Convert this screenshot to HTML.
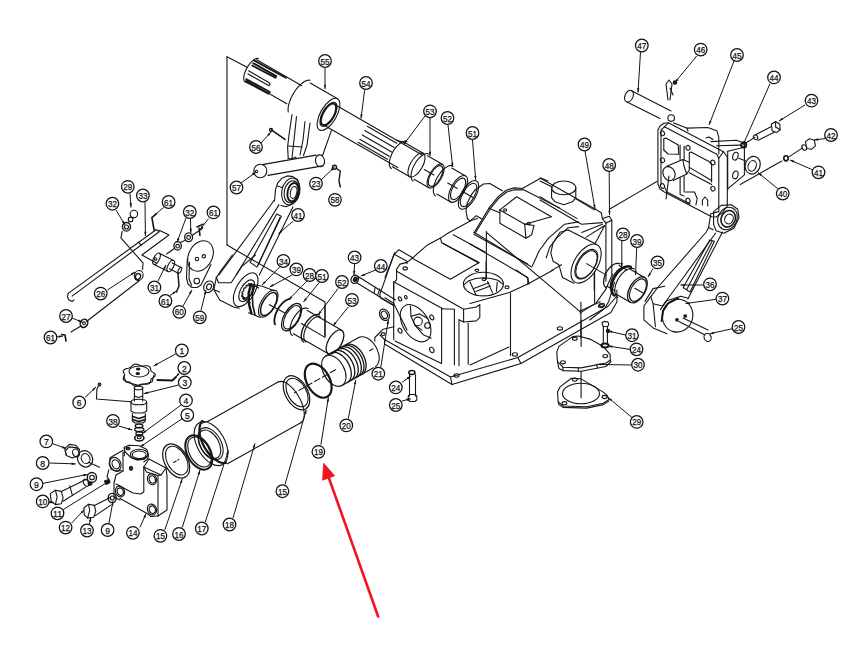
<!DOCTYPE html>
<html><head><meta charset="utf-8"><style>
html,body{margin:0;padding:0;background:#fff;width:867px;height:649px;overflow:hidden}
svg{display:block}
text{font-family:"Liberation Sans",sans-serif;fill:#111;stroke:#111;stroke-width:0.25}
</style></head><body>
<svg width="867" height="649" viewBox="0 0 867 649">
<g fill="none" stroke="#151515" stroke-width="1.1" stroke-linejoin="round" stroke-linecap="round">
<polyline points="227.0,56.7 247.5,67.5"/>
<polyline points="227.0,56.7 227.0,245.0"/>
<polyline points="227.0,245.0 325.0,302.0"/>
<polyline points="325.0,306.0 325.0,336.0"/>
<polyline points="256.7,59.7 301.8,85.7"/>
<polyline points="246.0,80.4 286.8,103.8"/>
<polyline points="245.1,81.9 244.6,81.5 244.2,80.8 243.9,80.0 243.7,79.0 243.7,77.9 243.8,76.6 244.1,75.2 244.4,73.8 245.0,72.3 245.6,70.7 246.3,69.2 247.2,67.6 248.1,66.1 249.0,64.7 250.1,63.4 251.1,62.2 252.2,61.1 253.2,60.2 254.3,59.5 255.3,58.9 256.2,58.6 257.0,58.4 257.8,58.5 258.5,58.7"/>
<polyline points="253.2,63.2 276.3,76.1 275.4,77.7 252.2,65.5" stroke-width="1.8"/>
<polyline points="248.6,70.8 268.4,82.2 270.2,84.0 269.1,85.8 248.0,73.9"/>
<polyline points="246.2,79.1 269.8,92.0 268.4,93.7 245.8,81.6" stroke-width="1.8"/>
<polyline points="253.9,60.4 285.8,77.7" stroke-width="1.8"/>
<polyline points="335.6,105.1 422.3,155.0"/>
<polyline points="320.6,123.2 397.7,167.6"/>
<polyline points="367.3,126.3 396.7,143.3"/>
<polyline points="364.8,130.6 394.2,147.6"/>
<polyline points="362.3,135.0 391.7,151.9"/>
<polyline points="359.8,139.3 389.2,156.3"/>
<polyline points="358.0,142.3 387.5,159.3"/>
<polyline points="288.2,112.0 288.1,110.6 288.1,109.1 288.2,107.4 288.5,105.7 289.0,103.9 289.5,102.1 290.2,100.2 290.9,98.3 291.8,96.4 292.8,94.6 293.9,92.8 295.0,91.0 296.2,89.3 297.5,87.7 298.8,86.3 300.1,84.9 301.5,83.7 302.8,82.7 304.1,81.8 305.4,81.1 306.7,80.6 307.8,80.3 309.0,80.1 310.0,80.2"/>
<polyline points="310.2,83.1 337.5,98.8"/>
<ellipse cx="328.5" cy="114.4" rx="8.1" ry="18.0" transform="rotate(29.9 328.5 114.4)"/>
<ellipse cx="328.5" cy="114.4" rx="6.1" ry="13.5" transform="rotate(29.9 328.5 114.4)"/>
<ellipse cx="328.5" cy="114.4" rx="5.4" ry="12.0" transform="rotate(29.9 328.5 114.4)" stroke-width="1.8"/>
<polyline points="292.0,114.5 289.0,135.0 287.6,147.0 288.2,158.3"/>
<polyline points="296.5,116.5 294.0,140.0 292.0,158.0"/>
<polyline points="305.0,121.5 303.0,140.0 300.0,155.0"/>
<polyline points="310.0,123.0 307.0,145.0 303.5,155.5"/>
<polyline points="288.2,158.3 291.0,159.0 296.0,157.0"/>
<polyline points="288.0,146.0 302.0,147.0"/>
<polyline points="331.4,130.4 322.5,155.8"/>
<polyline points="271.0,129.7 285.0,139.3" stroke-width="1.6"/>
<circle cx="271" cy="130" r="1.6"/>
<polyline points="262.2,164.6 316.1,155.1"/>
<polyline points="268.0,175.4 322.5,165.9"/>
<ellipse cx="260.3" cy="171" rx="6.5" ry="6.8"/>
<ellipse cx="320" cy="160.8" rx="4.5" ry="6" transform="rotate(-10 320 160.8)"/>
<circle cx="256.5" cy="171.5" r="1.2"/>
<circle cx="334.5" cy="167.2" r="2" stroke-width="1.5"/>
<polyline points="336.5,168.5 340.3,171.0 339.0,181.0 340.3,187.0" stroke-width="1.4"/>
<polyline points="405.9,143.3 423.2,153.3"/>
<polyline points="392.4,166.7 409.8,176.7"/>
<polyline points="391.4,168.5 390.7,168.0 390.1,167.2 389.7,166.2 389.4,165.0 389.3,163.6 389.4,162.1 389.6,160.5 390.0,158.8 390.6,157.0 391.3,155.2 392.1,153.3 393.1,151.5 394.2,149.8 395.3,148.2 396.5,146.6 397.8,145.3 399.1,144.1 400.4,143.0 401.6,142.2 402.9,141.6 404.0,141.2 405.1,141.1 406.1,141.2 406.9,141.5"/>
<ellipse cx="416.5" cy="165.0" rx="6.1" ry="13.5" transform="rotate(29.9 416.5 165.0)"/>
<polyline points="396.3,140.0 405.9,143.3"/>
<polyline points="427.6,155.8 442.3,164.3"/>
<polyline points="414.1,179.2 428.9,187.7"/>
<polyline points="413.1,181.0 412.4,180.4 411.8,179.6 411.4,178.6 411.1,177.4 411.0,176.1 411.1,174.6 411.3,172.9 411.7,171.2 412.3,169.4 413.0,167.6 413.8,165.8 414.8,164.0 415.8,162.3 417.0,160.6 418.2,159.1 419.5,157.7 420.8,156.5 422.0,155.5 423.3,154.7 424.5,154.1 425.7,153.7 426.8,153.6 427.7,153.7 428.6,154.0"/>
<ellipse cx="435.6" cy="176.0" rx="6.1" ry="13.5" transform="rotate(29.9 435.6 176.0)"/>
<ellipse cx="435.6" cy="176.0" rx="5.2" ry="11.5" transform="rotate(29.9 435.6 176.0)"/>
<polyline points="451.7,168.0 465.6,175.9"/>
<polyline points="436.8,194.0 450.6,201.9"/>
<polyline points="435.6,196.0 434.8,195.3 434.2,194.4 433.7,193.3 433.4,192.0 433.3,190.5 433.4,188.8 433.6,187.0 434.1,185.1 434.7,183.1 435.5,181.1 436.4,179.1 437.5,177.1 438.7,175.2 440.0,173.3 441.3,171.6 442.7,170.1 444.1,168.7 445.6,167.6 447.0,166.7 448.3,166.0 449.6,165.6 450.8,165.5 451.9,165.6 452.9,166.0"/>
<ellipse cx="458.1" cy="188.9" rx="6.8" ry="15.0" transform="rotate(29.9 458.1 188.9)"/>
<ellipse cx="458.1" cy="188.9" rx="5.4" ry="12.0" transform="rotate(29.9 458.1 188.9)"/>
<ellipse cx="468.5" cy="194.9" rx="7.2" ry="16.0" transform="rotate(29.9 468.5 194.9)"/>
<ellipse cx="468.5" cy="194.9" rx="5.9" ry="13.0" transform="rotate(29.9 468.5 194.9)"/>
<polyline points="424.3,169.5 433.9,175.0"/>
<polyline points="447.7,183.0 457.3,188.4"/>
<polyline points="463.3,191.9 472.9,197.4"/>
<polyline points="467.5,218.8 466.0,211.5 467.2,203.2 471.2,194.9 475.3,189.7 483.6,184.0 489.8,183.5 502.3,190.8"/>
<polyline points="467.5,218.8 470.1,220.9 476.3,215.7 481.5,218.8"/>
<polyline points="473.9,233.0 488.9,208.2 498.2,196.6 506.2,190.2 514.3,187.9 522.4,188.5 540.9,178.1 547.9,181.0"/>
<polyline points="475.6,232.4 490.3,208.7 499.3,197.7 506.8,192.0 514.3,189.7 523.0,189.9"/>
<polyline points="488.9,208.2 499.9,212.8"/>
<polyline points="523.6,189.7 560.0,208.2"/>
<polyline points="499.9,209.9 516.6,196.8 551.3,216.8"/>
<polyline points="499.9,209.9 524.7,224.3 551.3,216.8"/>
<polyline points="499.9,209.9 499.9,223.2 525.9,238.2 531.7,234.7 534.0,225.5 524.7,224.3"/>
<polyline points="524.7,224.3 525.9,238.2"/>
<ellipse cx="505.1" cy="209.9" rx="1.5" ry="1.2" transform="rotate(0 505.1 209.9)"/>
<ellipse cx="528.8" cy="223.4" rx="1.5" ry="1.2" transform="rotate(0 528.8 223.4)"/>
<ellipse cx="563.7" cy="187.9" rx="12.1" ry="6.9"/>
<polyline points="551.6,187.9 551.6,197.7 555.0,201.8 563.7,204.7 572.4,201.8 575.8,197.7 575.8,187.9"/>
<polyline points="540.0,178.1 595.5,209.3 601.3,212.8 602.4,218.6 609.4,216.2 611.7,220.3"/>
<polyline points="540.0,181.0 552.7,187.3"/>
<polyline points="575.8,198.9 594.3,209.9"/>
<polyline points="540.0,196.6 577.0,218.6"/>
<polyline points="540.0,200.1 575.8,220.9 581.6,224.3 602.4,222.6"/>
<polyline points="602.4,218.6 605.9,223.2 611.7,220.3"/>
<polyline points="609.4,209.3 640.0,191.4 656.8,181.6"/>
<polyline points="581.6,232.4 602.4,224.3"/>
<polyline points="586.2,237.1 604.7,225.5"/>
<polyline points="595.5,242.8 604.7,225.5"/>
<ellipse cx="586.1" cy="263.6" rx="11.7" ry="21.7" transform="rotate(31.4 586.1 263.6)"/>
<ellipse cx="586.3" cy="264.2" rx="8.9" ry="16.5" transform="rotate(31.4 586.3 264.2)"/>
<ellipse cx="586.5" cy="264.6" rx="8.3" ry="15.3" transform="rotate(31.4 586.5 264.6)"/>
<polyline points="568.2,230.0 595.9,243.9"/>
<polyline points="568.2,230.0 560.1,232.3 553.1,242.7 550.8,253.2 553.1,261.2 558.9,264.7 562.4,277.4 573.9,283.2"/>
<polyline points="532.3,265.9 539.2,250.8 548.5,238.1 564.7,224.2 578.6,221.9"/>
<polyline points="546.2,257.8 549.7,247.4 556.6,238.1 568.2,227.7 578.6,226.6"/>
<polyline points="586.6,263.6 606.3,275.1"/>
<polyline points="594.2,273.4 594.2,290.0"/>
<polyline points="396.6,269.3 400.0,264.1 407.0,262.4 412.7,257.8 426.6,245.6 440.5,238.1 447.4,233.5 471.7,220.2 477.5,218.5"/>
<polyline points="385.0,277.4 394.2,254.3 398.9,249.7 412.7,257.8"/>
<polyline points="394.2,254.3 407.0,261.2 407.0,263.6"/>
<polyline points="440.5,238.1 441.6,242.7 479.2,262.4 450.3,279.2 412.7,258.4"/>
<polyline points="442.8,243.3 478.6,263.0"/>
<polyline points="453.2,234.7 485.0,252.0"/>
<ellipse cx="405.2" cy="268.4" rx="2.2" ry="1.5" transform="rotate(0 405.2 268.4)"/>
<ellipse cx="476.9" cy="270.3" rx="1.8" ry="1.2" transform="rotate(0 476.9 270.3)"/>
<polyline points="396.6,269.3 396.6,279.7 393.7,283.2 393.7,290.0"/>
<polyline points="396.6,271.2 461.9,308.2 463.6,309.3 476.3,307.0 479.8,304.7"/>
<polyline points="395.4,282.7 442.8,308.7"/>
<polyline points="393.7,281.6 393.7,339.4"/>
<polyline points="441.6,308.7 441.6,363.1"/>
<polyline points="454.4,309.3 454.4,364.8"/>
<polyline points="459.0,319.7 459.0,365.7"/>
<polyline points="468.2,323.2 468.2,364.2"/>
<polyline points="441.6,308.7 454.4,309.3"/>
<polyline points="459.0,319.7 463.6,322.0 476.3,320.9 479.8,317.4 479.8,304.7"/>
<polyline points="463.6,309.3 463.6,322.0"/>
<ellipse cx="415.6" cy="323.2" rx="12.7" ry="20.5" transform="rotate(-32.3 415.6 323.2)"/>
<polyline points="410.4,305.8 411.0,316.2 415.1,325.5 423.2,334.7 431.2,338.2"/>
<polyline points="411.0,316.2 419.7,313.9 427.8,318.6"/>
<polyline points="415.1,325.5 422.0,330.1"/>
<circle cx="418" cy="321.4" r="4.3"/>
<circle cx="427.5" cy="325.5" r="2.8"/>
<ellipse cx="400.0" cy="298.9" rx="1.4400000000000002" ry="2.16" transform="rotate(-30 400.0 298.9)"/>
<ellipse cx="405.8" cy="297.2" rx="1.2000000000000002" ry="1.7999999999999998" transform="rotate(-30 405.8 297.2)"/>
<ellipse cx="431.8" cy="317.4" rx="1.7600000000000002" ry="2.64" transform="rotate(-30 431.8 317.4)"/>
<ellipse cx="400.0" cy="330.7" rx="1.7600000000000002" ry="2.64" transform="rotate(-30 400.0 330.7)"/>
<polyline points="385.0,297.7 393.7,303.5"/>
<ellipse cx="431.8" cy="350" rx="2" ry="2.8" transform="rotate(-30 431.8 350)"/>
<polyline points="393.7,303.5 407.0,330.1"/>
<ellipse cx="483.4" cy="284.1" rx="20" ry="11.8"/>
<polyline points="464.0,284.8 468.8,280.7 475.8,278.5 483.4,277.8 491.0,278.5 497.9,280.3 502.8,284.1"/>
<polyline points="469.9,281.7 475.8,294.5"/>
<polyline points="487.5,281.4 492.7,293.1"/>
<polyline points="497.2,282.1 496.5,291.1"/>
<polyline points="473.7,288.6 488.9,282.8"/>
<polyline points="475.8,291.4 490.3,285.9"/>
<polyline points="486.1,262.0 486.1,279.3"/>
<ellipse cx="484" cy="279.5" rx="1.8" ry="1.1"/>
<polyline points="470.0,303.5 509.3,292.5 527.8,283.9 553.2,270.0"/>
<polyline points="516.2,270.0 527.8,278.1 529.0,283.9"/>
<polyline points="510.5,293.1 510.5,355.5"/>
<ellipse cx="507.0" cy="287.3" rx="2" ry="1.4" transform="rotate(0 507.0 287.3)"/>
<polyline points="473.9,232.3 531.7,267.0"/>
<polyline points="473.9,234.3 527.8,264.1"/>
<polyline points="486.4,231.4 486.4,278.6"/>
<polyline points="486.4,232.3 579.8,311.3"/>
<polyline points="470.0,243.9 527.8,277.6 527.8,284.4"/>
<polyline points="550.9,270.9 561.5,264.7"/>
<polyline points="579.8,311.3 600.1,301.7"/>
<polyline points="380.0,335.0 384.5,339.5 450.5,377.0 517.9,357.5 607.9,306.5 616.9,296.0 616.9,290.0"/>
<polyline points="384.5,339.5 384.5,344.0 452.0,384.5 520.9,363.5 610.9,312.5 616.9,302.0 616.9,296.0"/>
<polyline points="450.5,377.0 452.0,384.5"/>
<polyline points="517.9,357.5 520.9,363.5"/>
<polyline points="395.0,341.0 441.5,363.5"/>
<polyline points="470.0,365.0 508.9,347.0"/>
<polyline points="580.9,302.0 580.9,338.0"/>
<ellipse cx="456.5" cy="375.5" rx="2.6" ry="1.7" transform="rotate(0 456.5 375.5)"/>
<ellipse cx="514.9" cy="354.5" rx="2.6" ry="1.7" transform="rotate(0 514.9 354.5)"/>
<ellipse cx="559.9" cy="328.4" rx="2.6" ry="1.7" transform="rotate(0 559.9 328.4)"/>
<ellipse cx="601.9" cy="305.0" rx="2.6" ry="1.7" transform="rotate(0 601.9 305.0)"/>
<polyline points="274.5,201.0 275.5,189.4 277.6,183.2 281.8,178.3 287.3,175.9 292.9,176.6 297.7,179.7 299.1,185.3 299.1,192.9 296.4,199.8 290.8,204.7 286.0,206.8 281.0,205.5"/>
<polyline points="277.6,186.0 281.8,187.5"/>
<ellipse cx="290.8" cy="191.5" rx="9" ry="13.6" transform="rotate(12 290.8 191.5)"/>
<ellipse cx="291.5" cy="191.8" rx="7.2" ry="11.2" transform="rotate(12 291.5 191.8)"/>
<ellipse cx="292.9" cy="192.2" rx="5.3" ry="9.3" transform="rotate(12 292.9 192.2)" stroke-width="1.9"/>
<ellipse cx="293.6" cy="192.5" rx="3.2" ry="6" transform="rotate(12 293.6 192.5)"/>
<polyline points="274.4,200.0 218.9,275.0"/>
<polyline points="279.0,204.6 236.2,275.0"/>
<polygon points="276.7,213.9 281.3,216.2 257.0,267.1 250.1,262.4"/>
<polyline points="280.1,217.3 258.2,264.7"/>
<polyline points="292.9,206.9 259.3,275.0"/>
<polyline points="232.4,255.0 219.7,272.3 216.2,278.1 213.9,289.7 219.7,300.1 233.5,307.0 239.3,308.2"/>
<polyline points="216.2,277.0 218.5,282.7 231.2,282.7 241.6,266.6 255.5,255.0"/>
<polyline points="213.9,289.7 219.7,292.0"/>
<ellipse cx="245.7" cy="289.7" rx="9.3" ry="18.7" transform="rotate(29.9 245.7 289.7)"/>
<ellipse cx="246.7" cy="290.7" rx="6.0" ry="12.0" transform="rotate(29.9 246.7 290.7)"/>
<polyline points="251.6,293.8 251.3,294.3 251.0,294.8 250.6,295.2 249.8,294.8 249.5,295.2 249.2,295.5 248.9,295.8 248.9,297.2 248.5,297.5 248.1,297.8 247.8,298.1 247.4,297.0 247.1,297.2 246.8,297.3 246.5,297.4 245.9,299.0 245.5,299.1 245.1,299.2 244.8,299.2 245.1,297.7 244.8,297.6 244.6,297.6 244.3,297.5 243.3,298.9 243.0,298.7 242.8,298.5 242.6,298.3 243.4,296.7 243.3,296.5 243.1,296.2 243.0,296.0 241.8,296.7 241.7,296.3 241.7,295.9 241.6,295.5 242.8,294.4 242.8,294.0 242.9,293.6 242.9,293.2 241.9,293.2 242.0,292.7 242.1,292.2 242.3,291.7 243.5,291.2 243.7,290.8 243.8,290.4 244.0,290.0 243.4,289.2 243.7,288.7 244.0,288.2 244.4,287.8 245.2,288.2 245.5,287.8 245.8,287.5 246.1,287.2 246.1,285.8 246.5,285.5 246.9,285.2 247.2,284.9 247.6,286.0 247.9,285.8 248.2,285.7 248.5,285.6 249.1,284.0 249.5,283.9 249.9,283.8 250.2,283.8 249.9,285.3 250.2,285.4 250.4,285.4 250.7,285.5 251.7,284.1 252.0,284.3 252.2,284.5 252.4,284.7 251.6,286.3 251.7,286.5 251.9,286.8 252.0,287.0 253.2,286.3 253.3,286.7 253.3,287.1 253.4,287.5 252.2,288.6 252.2,289.0 252.1,289.4 252.1,289.8 253.1,289.8 253.0,290.3 252.9,290.8 252.7,291.3 251.5,291.8 251.3,292.2 251.2,292.6 251.0,293.0 251.6,293.8"/>
<polyline points="251.7,284.1 258.7,288.1"/>
<polyline points="243.3,298.9 250.2,302.9"/>
<polyline points="248.6,283.9 262.4,286.2 274.0,290.8"/>
<polyline points="248.6,312.8 260.1,317.4"/>
<polyline points="250.9,284.5 248.6,293.2 249.1,304.7 251.4,313.4" stroke-width="2.4"/>
<polyline points="254.3,285.3 252.3,293.7 252.8,305.3 254.9,314.5" stroke-width="1.6"/>
<ellipse cx="268.2" cy="303.6" rx="7.2" ry="15.0" transform="rotate(29.9 268.2 303.6)"/>
<ellipse cx="268.8" cy="304.0" rx="6.1" ry="12.8" transform="rotate(29.9 268.8 304.0)" stroke-width="1.5"/>
<polyline points="269.4,304.7 284.4,312.8"/>
<ellipse cx="208.7" cy="286.8" rx="4.8" ry="6" transform="rotate(25 208.7 286.8)"/>
<ellipse cx="209" cy="286.8" rx="2.3" ry="3" transform="rotate(25 209 286.8)"/>
<polyline points="68.2,293.4 156.4,229.5 159.2,231.7 72.1,296.1"/>
<polyline points="68.2,293.4 67.4,296.8 68.9,299.9 72.1,301.5 74.0,299.9"/>
<polyline points="138.7,242.2 141.2,245.4"/>
<polyline points="122.2,231.4 120.9,237.8 143.1,263.1 142.5,269.5"/>
<polyline points="159.2,230.2 169.0,235.0 141.9,255.0 156.4,263.1"/>
<ellipse cx="138.7" cy="275.5" rx="4.3" ry="5" transform="rotate(20 138.7 275.5)"/>
<ellipse cx="138" cy="276.5" rx="2.5" ry="3" transform="rotate(20 138 276.5)" stroke-width="1.4"/>
<polyline points="86.5,321.5 139.5,280.5"/>
<polyline points="81.0,326.0 71.0,332.0"/>
<ellipse cx="84" cy="323.3" rx="3.6" ry="4.3" transform="rotate(30 84 323.3)" stroke-width="1.5"/>
<circle cx="84" cy="323.3" r="1.4"/>
<polyline points="61.5,334.5 65.0,335.0 66.0,341.0" stroke-width="1.6"/>
<circle cx="133.9" cy="213.9" r="3.7"/>
<circle cx="130.6" cy="219.4" r="2.3"/>
<ellipse cx="126.5" cy="226.8" rx="4" ry="4.3" stroke-width="1.4"/>
<circle cx="126.5" cy="227" r="2"/>
<polyline points="155.1,214.8 151.9,217.6 154.2,230.5" stroke-width="1.6"/>
<ellipse cx="177.6" cy="245.9" rx="3.7" ry="4.2" stroke-width="1.3"/>
<circle cx="177.6" cy="246.2" r="1.8"/>
<ellipse cx="188.6" cy="237.2" rx="3.9" ry="4.4" stroke-width="1.3"/>
<circle cx="188.6" cy="237.5" r="1.9"/>
<polyline points="180.5,242.4 185.7,240.1"/>
<polyline points="192.0,235.5 202.4,228.5"/>
<polyline points="199.1,228.2 199.9,235.5" stroke-width="1.6"/>
<polyline points="197.0,227.0 203.1,224.1" stroke-width="1.6"/>
<polyline points="166.6,254.0 174.7,248.2"/>
<polyline points="153.7,264.3 168.0,271.5"/>
<polyline points="159.3,253.3 173.6,260.4"/>
<ellipse cx="156.5" cy="258.8" rx="2.8" ry="6.2" transform="rotate(26.6 156.5 258.8)"/>
<ellipse cx="170.8" cy="266.0" rx="2.8" ry="6.2" transform="rotate(26.6 170.8 266.0)"/>
<polyline points="169.4,268.8 178.3,273.3"/>
<polyline points="172.2,263.1 181.2,267.6"/>
<ellipse cx="179.8" cy="270.4" rx="1.4" ry="3.2" transform="rotate(26.6 179.8 270.4)"/>
<circle cx="155.5" cy="259" r="1.3"/>
<ellipse cx="200.5" cy="256" rx="11.8" ry="16" transform="rotate(28 200.5 256)"/>
<polyline points="187.3,259.0 186.5,278.0 188.0,284.0 192.0,287.5 197.0,287.5 201.0,285.0 211.0,264.5"/>
<polyline points="189.5,262.0 189.0,279.0 191.5,285.0"/>
<circle cx="197" cy="259" r="1.7"/>
<circle cx="203.8" cy="256.3" r="1.7"/>
<circle cx="196.8" cy="281" r="2.8"/>
<polyline points="178.0,273.5 179.0,286.0 176.5,292.0" stroke-width="1.5"/>
<polyline points="278.0,382.1 208.2,421.2"/>
<polyline points="300.8,422.7 227.5,463.8"/>
<polyline points="278.0,382.1 279.4,381.6 280.9,381.4 282.5,381.6 284.3,382.1 286.2,383.0 288.1,384.2 290.0,385.8 292.0,387.6 293.9,389.7 295.7,392.0 297.4,394.4 298.9,397.0 300.4,399.7 301.6,402.5 302.6,405.2 303.4,407.9 303.9,410.5 304.2,413.0 304.3,415.3 304.0,417.3 303.6,419.1 302.9,420.6 301.9,421.8 300.8,422.7"/>
<polyline points="208.2,421.2 202.4,423.1"/>
<polyline points="226.0,462.8 224.3,463.0 222.6,462.9 220.7,462.5 218.8,461.7 216.9,460.7 214.9,459.4 213.0,457.9 211.1,456.1 209.3,454.2 207.6,452.0 206.0,449.7 204.5,447.3 203.2,444.7 202.0,442.2 201.1,439.6 200.4,437.0 199.8,434.4 199.5,432.0 199.5,429.6 199.6,427.5 200.0,425.5 200.6,423.7 201.4,422.1 202.4,420.8" stroke-width="2.2"/>
<ellipse cx="211.0" cy="443.6" rx="13.9" ry="24.0" transform="rotate(150.7 211.0 443.6)"/>
<ellipse cx="210.6" cy="443.8" rx="10.5" ry="17.5" transform="rotate(150.7 210.6 443.8)"/>
<ellipse cx="209.7" cy="444.3" rx="9.3" ry="15.5" transform="rotate(150.7 209.7 444.3)"/>
<ellipse cx="198.8" cy="452.5" rx="11.5" ry="18.5" transform="rotate(150.7 198.8 452.5)" stroke-width="2"/>
<ellipse cx="199.5" cy="452.0" rx="10.0" ry="16.2" transform="rotate(150.7 199.5 452.0)"/>
<ellipse cx="176.2" cy="461.0" rx="11.5" ry="18.5" transform="rotate(150.7 176.2 461.0)" stroke-width="1.2"/>
<ellipse cx="176.8" cy="460.6" rx="9.6" ry="15.5" transform="rotate(150.7 176.8 460.6)"/>
<polyline points="173.6,462.5 178.8,459.5" stroke-dasharray="3 2"/>
<ellipse cx="296.5" cy="392.8" rx="11.1" ry="18.5" transform="rotate(150.7 296.5 392.8)" stroke-width="1.2"/>
<ellipse cx="297.0" cy="392.5" rx="9.3" ry="15.5" transform="rotate(150.7 297.0 392.5)"/>
<ellipse cx="318.2" cy="380.7" rx="11.4" ry="18.4" transform="rotate(150.7 318.2 380.7)" stroke-width="2.2"/>
<ellipse cx="333.8" cy="370.8" rx="10.4" ry="16.8" transform="rotate(150.7 333.8 370.8)"/>
<polyline points="342.0,385.5 373.4,367.8"/>
<polyline points="325.6,356.1 358.7,337.6"/>
<polyline points="358.7,337.6 360.0,337.0 361.4,336.7 362.8,336.7 364.4,337.0 366.0,337.5 367.6,338.3 369.1,339.3 370.7,340.5 372.2,341.9 373.6,343.5 374.9,345.3 376.0,347.1 377.0,349.1 377.8,351.1 378.5,353.1 378.9,355.1 379.2,357.1 379.2,359.0 379.0,360.7 378.6,362.4 378.0,363.8 377.2,365.0 376.3,366.1 375.2,366.9"/>
<polyline points="330.8,353.2 332.1,352.7 333.4,352.4 334.9,352.4 336.5,352.6 338.0,353.1 339.6,353.9 341.2,354.9 342.8,356.1 344.3,357.6 345.7,359.2 347.0,360.9 348.1,362.8 349.1,364.7 349.9,366.7 350.6,368.8 351.0,370.8 351.2,372.7 351.3,374.6 351.1,376.4 350.7,378.0 350.1,379.5 349.3,380.7 348.4,381.7 347.2,382.5" stroke-width="1.3"/>
<polyline points="334.3,351.3 335.6,350.7 336.9,350.4 338.4,350.4 339.9,350.7 341.5,351.2 343.1,351.9 344.7,352.9 346.3,354.2 347.8,355.6 349.2,357.2 350.5,358.9 351.6,360.8 352.6,362.8 353.4,364.8 354.1,366.8 354.5,368.8 354.7,370.8 354.8,372.7 354.6,374.4 354.2,376.0 353.6,377.5 352.8,378.7 351.9,379.8 350.7,380.6" stroke-width="1.3"/>
<polyline points="337.8,349.3 339.1,348.8 340.4,348.5 341.9,348.5 343.4,348.7 345.0,349.2 346.6,350.0 348.2,351.0 349.8,352.2 351.3,353.6 352.7,355.2 353.9,357.0 355.1,358.9 356.1,360.8 356.9,362.8 357.5,364.9 358.0,366.9 358.2,368.8 358.2,370.7 358.1,372.5 357.7,374.1 357.1,375.5 356.3,376.8 355.3,377.8 354.2,378.6" stroke-width="1.3"/>
<polyline points="340.8,347.6 342.1,347.1 343.5,346.8 344.9,346.8 346.5,347.0 348.1,347.5 349.7,348.3 351.3,349.3 352.8,350.5 354.3,351.9 355.7,353.5 357.0,355.3 358.1,357.1 359.1,359.1 360.0,361.1 360.6,363.1 361.0,365.2 361.3,367.1 361.3,369.0 361.1,370.8 360.7,372.4 360.1,373.8 359.3,375.1 358.4,376.1 357.3,376.9" stroke-width="1.3"/>
<polyline points="343.5,346.1 344.7,345.6 346.1,345.3 347.6,345.3 349.1,345.5 350.7,346.1 352.3,346.8 353.9,347.8 355.4,349.0 356.9,350.5 358.3,352.1 359.6,353.8 360.8,355.7 361.8,357.6 362.6,359.6 363.2,361.7 363.7,363.7 363.9,365.7 363.9,367.5 363.7,369.3 363.3,370.9 362.7,372.4 362.0,373.6 361.0,374.6 359.9,375.4" stroke-width="1.3"/>
<polyline points="345.6,344.9 346.9,344.4 348.3,344.1 349.7,344.1 351.3,344.3 352.9,344.8 354.5,345.6 356.1,346.6 357.6,347.8 359.1,349.2 360.5,350.8 361.8,352.6 362.9,354.5 363.9,356.4 364.8,358.4 365.4,360.5 365.8,362.5 366.1,364.4 366.1,366.3 365.9,368.1 365.5,369.7 364.9,371.1 364.1,372.4 363.2,373.4 362.1,374.2" stroke-width="1.3"/>
<polyline points="335.5,369.8 294.6,392.8" stroke-dasharray="6 3"/>
<polyline points="369.6,350.7 373.0,348.8"/>
<polygon points="155.3,375.0 155.0,376.0 154.1,376.8 153.0,377.6 152.0,378.2 151.2,378.9 150.8,379.7 150.7,380.6 150.5,381.7 150.1,382.7 149.3,383.5 148.1,384.0 146.6,384.2 145.0,384.2 143.5,384.0 142.2,384.0 141.0,384.2 139.9,384.6 138.6,385.2 137.2,385.7 135.7,385.9 134.3,385.7 133.1,385.1 132.1,384.3 131.3,383.4 130.5,382.7 129.6,382.1 128.5,381.8 127.1,381.5 125.6,381.1 124.3,380.5 123.5,379.7 123.2,378.7 123.5,377.7 124.0,376.7 124.5,375.8 124.7,375.0 124.5,374.2 124.0,373.3 123.5,372.3 123.2,371.3 123.5,370.3 124.3,369.5 125.6,368.9 127.1,368.5 128.5,368.2 129.6,367.9 130.5,367.3 131.3,366.6 132.1,365.7 133.1,364.9 134.3,364.3 135.7,364.1 137.2,364.3 138.6,364.8 139.9,365.4 141.0,365.8 142.2,366.0 143.5,366.0 145.0,365.8 146.6,365.8 148.1,366.0 149.3,366.5 150.1,367.3 150.5,368.3 150.7,369.4 150.8,370.3 151.2,371.1 152.0,371.8 153.0,372.4 154.1,373.2 155.0,374.0 155.3,375.0"/>
<ellipse cx="139" cy="371.5" rx="10" ry="5.5"/>
<polyline points="123.5,376.0 126.0,382.0 139.0,385.5 152.0,382.0 154.0,375.0"/>
<ellipse cx="138.2" cy="369" rx="1.7" ry="1" fill="#222"/>
<ellipse cx="137.8" cy="373.5" rx="1.7" ry="1" fill="#222"/>
<polyline points="157.4,380.0 172.3,380.5 176.0,377.0" stroke-width="2"/>
<polyline points="134.4,387.0 134.4,401.0"/>
<polyline points="142.7,387.0 142.7,401.0"/>
<ellipse cx="138.5" cy="388" rx="4.2" ry="1.8"/>
<polyline points="134.4,396.0 138.5,397.5 142.7,396.0"/>
<polyline points="99.3,384.2 96.9,388.9 96.5,399.0 130.7,401.8"/>
<circle cx="99.5" cy="384.5" r="1.4"/>
<ellipse cx="138.8" cy="402" rx="7.8" ry="2.8"/>
<polyline points="131.0,402.0 131.0,411.2 135.0,413.0 142.5,413.0 146.7,411.2 146.7,402.0"/>
<polyline points="132.4,413.5 132.4,421.0 135.0,423.0 143.0,423.0 145.3,421.0 145.3,413.5"/>
<polyline points="132.6,416.5 139.0,418.5 145.0,416.5" stroke-width="1.8"/>
<polyline points="132.6,419.5 139.0,421.5 145.0,419.5" stroke-width="1.8"/>
<ellipse cx="139" cy="426" rx="3.8" ry="1.8" stroke-width="1.3"/>
<ellipse cx="139.3" cy="429.5" rx="4.6" ry="2" stroke-width="1.3"/>
<ellipse cx="139.3" cy="433.5" rx="3.5" ry="1.6"/>
<ellipse cx="139.3" cy="438" rx="4.6" ry="3" stroke-width="1.6"/>
<ellipse cx="139.3" cy="437.5" rx="2" ry="1.3"/>
<polyline points="124.3,455.7 124.3,447.3 129.0,445.2 139.5,445.8 146.8,449.4 148.4,454.7 147.9,458.9 143.7,462.0"/>
<ellipse cx="139.2" cy="454.5" rx="8.9" ry="5.2"/>
<ellipse cx="139.2" cy="454.8" rx="7" ry="3.8"/>
<polyline points="124.3,447.3 124.8,451.5 131.1,457.8 137.4,459.9 144.7,458.9 148.4,454.7"/>
<ellipse cx="128" cy="448.4" rx="2" ry="1.4" fill="#333"/>
<polyline points="122.7,450.5 114.3,455.2 110.1,457.8"/>
<polyline points="110.1,457.8 109.1,464.1 111.2,469.3 116.4,471.4 121.1,470.4"/>
<ellipse cx="115.4" cy="464.1" rx="5.4" ry="7" transform="rotate(-25 115.4 464.1)"/>
<ellipse cx="115.8" cy="464.3" rx="3.5" ry="4.7" transform="rotate(-25 115.8 464.3)"/>
<polyline points="123.0,452.0 123.0,471.0"/>
<polyline points="123.0,471.0 116.0,475.0 114.0,483.0 114.0,497.0 120.0,500.0"/>
<polyline points="143.8,467.0 143.8,492.0 140.5,494.0 133.0,493.0 116.0,484.0"/>
<polyline points="120.0,498.5 148.0,514.0 151.0,516.5 158.0,516.0"/>
<polyline points="143.8,467.0 149.0,459.0 166.0,468.0 161.0,475.0 143.8,467.0"/>
<polyline points="143.8,467.0 146.5,472.0 158.0,475.5 161.0,475.0"/>
<polyline points="158.0,475.5 158.0,516.0"/>
<polyline points="166.0,468.0 167.0,476.0 167.0,510.0 158.0,516.0"/>
<ellipse cx="152" cy="479.3" rx="4.5" ry="5.5" transform="rotate(-20 152 479.3)"/>
<ellipse cx="152.3" cy="479.5" rx="3" ry="3.8" transform="rotate(-20 152.3 479.5)"/>
<ellipse cx="152" cy="509.5" rx="4.5" ry="5.5" transform="rotate(-20 152 509.5)"/>
<ellipse cx="152.3" cy="509.7" rx="3" ry="3.8" transform="rotate(-20 152.3 509.7)"/>
<ellipse cx="120" cy="491.5" rx="4.5" ry="5.5" transform="rotate(-20 120 491.5)"/>
<ellipse cx="120.3" cy="491.7" rx="3" ry="3.8" transform="rotate(-20 120.3 491.7)"/>
<ellipse cx="131" cy="468.2" rx="1.6" ry="2" fill="#333"/>
<polygon points="64.7,448.6 69.3,444.4 75.8,445.3 79.5,449.5 78.5,455.4 72.4,458.1 66.3,455.4"/>
<polyline points="66.3,455.4 65.3,451.2 69.0,446.9 75.8,447.6 79.5,449.5"/>
<ellipse cx="76" cy="453" rx="3.2" ry="4.2" transform="rotate(-30 76 453)"/>
<ellipse cx="85.1" cy="458.8" rx="7.4" ry="8.4" transform="rotate(-25 85.1 458.8)" stroke-width="1.2"/>
<ellipse cx="85.6" cy="458.6" rx="4.2" ry="5.1" transform="rotate(-25 85.6 458.6)"/>
<polyline points="88.5,462.2 99.5,467.3"/>
<ellipse cx="91.9" cy="477.5" rx="4.6" ry="5" stroke-width="1.4"/>
<circle cx="92" cy="477.5" r="2.3"/>
<polygon points="50.3,493.6 55.4,490.2 61.4,491.4 63.1,497.8 61.4,503.7 55.4,504.6 51.2,501.2"/>
<polyline points="55.4,490.2 57.1,496.9 55.4,504.6"/>
<polyline points="61.4,491.4 85.9,479.5"/>
<polyline points="63.1,501.2 85.6,487.1"/>
<polyline points="69.8,485.9 72.4,495.3"/>
<ellipse cx="86" cy="482.8" rx="2.4" ry="3.8" transform="rotate(-30 86 482.8)"/>
<polygon points="83.9,508.0 88.5,504.2 94.4,505.4 95.8,511.4 93.6,517.3 87.6,518.1 84.2,514.7"/>
<polyline points="88.5,504.2 89.7,510.5 87.6,518.1"/>
<polyline points="94.4,505.4 109.7,497.8"/>
<polyline points="95.3,515.6 110.5,505.4"/>
<ellipse cx="112.2" cy="498" rx="4" ry="4.6" stroke-width="1.4"/>
<circle cx="112.3" cy="498" r="2"/>
<path d="M104.5 481 l4 -1.5 l1.5 3 l-4 2 z" fill="#222"/>
<path d="M88 483 l3 -1 l1 2.5 l-3 1 z" fill="#222"/>
<polyline points="108.8,469.8 107.1,476.6 109.7,480.8"/>
<ellipse cx="629" cy="96.2" rx="4" ry="6.2" transform="rotate(25 629 96.2)"/>
<polyline points="631.0,90.5 671.0,111.0"/>
<polyline points="627.0,102.0 660.0,118.5"/>
<circle cx="671.2" cy="118.1" r="3.3"/>
<polyline points="668.0,100.0 666.0,84.0 669.0,80.0 672.0,84.0 670.0,100.0"/>
<circle cx="675" cy="82.5" r="1.8" fill="#222"/>
<polyline points="670.0,88.0 673.0,95.0"/>
<polyline points="657.9,184.0 657.9,130.0 660.0,126.0 664.0,123.3 668.4,122.8 723.4,151.7 727.3,157.0 727.3,206.0 722.0,213.0 716.0,217.0 711.6,216.8 664.4,192.0 660.0,189.0 657.9,184.0"/>
<polyline points="661.0,184.0 661.0,130.0 664.4,126.8 716.8,154.3 718.8,158.3 718.8,211.6 711.6,213.5"/>
<polyline points="668.4,122.8 664.4,126.8"/>
<polyline points="723.4,151.7 718.8,158.3"/>
<ellipse cx="662.5" cy="133.3" rx="2" ry="2.4" transform="rotate(-25 662.5 133.3)"/>
<ellipse cx="688.0" cy="147.8" rx="2" ry="2.4" transform="rotate(-25 688.0 147.8)"/>
<ellipse cx="712.9" cy="162.5" rx="2" ry="2.4" transform="rotate(-25 712.9 162.5)"/>
<ellipse cx="662.5" cy="160.2" rx="2" ry="2.4" transform="rotate(-25 662.5 160.2)"/>
<ellipse cx="662.5" cy="186.0" rx="2" ry="2.4" transform="rotate(-25 662.5 186.0)"/>
<ellipse cx="712.9" cy="188.7" rx="2" ry="2.4" transform="rotate(-25 712.9 188.7)"/>
<ellipse cx="688.0" cy="200.5" rx="2" ry="2.4" transform="rotate(-25 688.0 200.5)"/>
<polyline points="663.8,150.0 663.8,138.6 666.0,138.0 678.2,145.1 678.8,154.3"/>
<polyline points="663.8,150.0 668.0,154.0 678.8,154.3"/>
<polyline points="665.0,188.0 667.0,192.0 690.0,204.0"/>
<polyline points="689.3,153.0 691.0,152.0 709.0,161.5 711.6,164.6 711.6,182.0"/>
<polyline points="689.3,153.0 689.3,162.2"/>
<ellipse cx="669" cy="173.6" rx="5.9" ry="7.2" transform="rotate(-25 669 173.6)"/>
<polyline points="666.8,166.2 682.8,159.6 689.3,162.2 689.3,170.0 686.7,174.0 673.2,180.6"/>
<polyline points="682.8,159.6 684.0,166.0 686.7,174.0"/>
<polyline points="680.1,145.0 680.1,160.5"/>
<polyline points="680.1,177.5 680.1,194.6 684.0,196.0"/>
<polyline points="684.1,146.0 684.1,160.0"/>
<polyline points="684.1,176.0 684.1,192.0"/>
<polyline points="689.3,167.4 711.6,180.5"/>
<polyline points="689.3,172.7 711.6,184.5"/>
<polyline points="685.4,192.0 694.5,192.0 697.2,198.5 695.9,205.0"/>
<polyline points="702.4,205.0 702.4,200.0 705.0,197.0 707.7,200.0 707.7,206.0"/>
<polyline points="666.0,199.0 669.0,176.0"/>
<polyline points="673.6,122.9 686.7,128.1 707.7,127.5 716.8,130.7 718.8,137.3 718.8,154.0"/>
<polyline points="686.7,128.1 688.0,131.0"/>
<polyline points="706.0,138.0 709.0,137.0 713.0,139.5"/>
<polyline points="711.1,141.6 736.1,140.2 744.4,143.0 744.4,174.9 727.7,188.8"/>
<polyline points="716.6,145.8 740.2,145.1 744.4,147.2"/>
<polyline points="727.7,151.3 744.4,147.2"/>
<polyline points="727.7,151.3 727.7,190.0"/>
<ellipse cx="735.4" cy="156.2" rx="2.6" ry="4" transform="rotate(15 735.4 156.2)"/>
<ellipse cx="735.4" cy="174.9" rx="2.6" ry="4" transform="rotate(15 735.4 174.9)"/>
<circle cx="743.7" cy="145.1" r="2.6" stroke-width="1.8"/>
<polyline points="745.8,143.0 754.8,137.4"/>
<ellipse cx="755.6" cy="137.3" rx="2" ry="2.5" transform="rotate(-30 755.6 137.3)"/>
<polyline points="755.5,134.7 771.4,126.4"/>
<polyline points="758.3,140.2 774.2,132.2"/>
<polygon points="771.4,124.3 775.6,121.5 779.8,124.3 780.2,129.8 776.3,132.6 772.1,130.8"/>
<polyline points="775.6,121.5 775.6,127.0 780.2,129.8"/>
<polygon points="805.4,141.6 809.6,138.8 814.4,140.2 815.4,145.8 811.7,149.2 806.8,148.5"/>
<ellipse cx="804.3" cy="147.5" rx="2.2" ry="2.8" transform="rotate(-30 804.3 147.5)"/>
<polyline points="788.8,156.9 802.6,147.9"/>
<ellipse cx="786" cy="158.3" rx="2.2" ry="2.6" stroke-width="1.6"/>
<ellipse cx="752.7" cy="165.2" rx="7.4" ry="9" transform="rotate(20 752.7 165.2)" stroke-width="1.2"/>
<ellipse cx="752.2" cy="165.9" rx="4" ry="5.4" transform="rotate(20 752.2 165.9)"/>
<polyline points="740.2,184.6 781.8,161.0"/>
<polyline points="738.8,158.3 745.8,161.0"/>
<polyline points="713.6,224.4 713.6,211.7 721.2,205.4 731.4,204.7 737.7,209.2 739.0,218.1 733.9,228.2 723.8,233.3 716.1,230.8 713.6,224.4"/>
<ellipse cx="727.5" cy="218.5" rx="9.5" ry="11.5" transform="rotate(25 727.5 218.5)"/>
<ellipse cx="728.2" cy="218.8" rx="7" ry="8.5" transform="rotate(25 728.2 218.8)" stroke-width="1.6"/>
<ellipse cx="729" cy="219" rx="4.2" ry="5" transform="rotate(25 729 219)"/>
<polyline points="710.9,213.5 708.6,227.4 706.3,232.0 657.7,287.5 650.8,296.7 643.9,306.0 643.9,319.9 653.1,327.9 667.0,333.7"/>
<polyline points="708.6,227.4 713.2,229.7"/>
<polyline points="715.5,233.2 678.6,284.0"/>
<polygon points="709.8,240.1 714.4,241.2 690.1,292.1 683.2,287.5"/>
<polyline points="712.1,241.2 686.6,289.8"/>
<polyline points="722.5,232.0 687.8,299.0"/>
<polyline points="650.8,296.7 653.1,303.7 662.4,306.0 678.6,284.0"/>
<polyline points="653.1,303.7 655.4,326.8"/>
<polyline points="645.0,301.4 653.1,288.6 664.7,286.3"/>
<ellipse cx="677.6" cy="315.7" rx="15.2" ry="16.5" transform="rotate(15 677.6 315.7)"/>
<polyline points="660.5,309.6 666.8,300.8 680.8,296.3 688.4,298.2"/>
<polyline points="661.7,321.1 663.0,310.9 668.1,303.3 678.2,298.2" stroke-width="2"/>
<circle cx="677" cy="319.8" r="1.3" fill="#222"/>
<circle cx="685.2" cy="316" r="1.3" fill="#222"/>
<polyline points="679.0,321.5 705.0,335.0"/>
<polyline points="683.0,318.0 708.0,330.0"/>
<ellipse cx="707.6" cy="337.4" rx="3.5" ry="4.2" transform="rotate(-20 707.6 337.4)"/>
<ellipse cx="637.4" cy="289.8" rx="7.9" ry="14.3" transform="rotate(29.9 637.4 289.8)" stroke-width="1.3"/>
<ellipse cx="637.9" cy="290.1" rx="6.8" ry="12.3" transform="rotate(29.9 637.9 290.1)"/>
<polyline points="629.8,268.9 644.5,277.4"/>
<polyline points="615.5,293.7 630.3,302.2"/>
<polyline points="614.4,295.6 613.5,294.9 612.7,294.0 612.1,292.8 611.6,291.4 611.4,289.9 611.3,288.2 611.4,286.4 611.7,284.6 612.2,282.6 612.9,280.7 613.8,278.7 614.8,276.8 615.9,275.0 617.2,273.3 618.5,271.7 620.0,270.3 621.4,269.0 622.9,268.0 624.4,267.2 625.9,266.7 627.2,266.4 628.6,266.3 629.8,266.6 630.9,267.0" stroke-width="2.4"/>
<polyline points="617.9,297.6 617.0,296.9 616.2,296.0 615.5,294.8 615.1,293.4 614.8,291.9 614.8,290.2 614.9,288.4 615.2,286.6 615.7,284.6 616.4,282.7 617.3,280.7 618.3,278.8 619.4,277.0 620.7,275.3 622.0,273.7 623.4,272.3 624.9,271.0 626.4,270.0 627.9,269.2 629.3,268.7 630.7,268.4 632.0,268.3 633.3,268.6 634.4,269.0"/>
<polyline points="619.1,265.4 626.9,269.9"/>
<polyline points="607.1,286.2 614.9,290.7"/>
<polyline points="606.2,287.8 605.4,287.2 604.8,286.5 604.2,285.5 603.9,284.3 603.6,283.1 603.6,281.6 603.7,280.1 604.0,278.6 604.4,276.9 605.0,275.3 605.7,273.6 606.5,272.0 607.5,270.5 608.5,269.1 609.7,267.7 610.9,266.6 612.1,265.5 613.3,264.7 614.6,264.0 615.8,263.6 617.0,263.3 618.1,263.3 619.1,263.5 620.0,263.8" stroke-width="1.3"/>
<polyline points="613.0,292.1 612.2,291.5 611.5,290.7 610.9,289.7 610.6,288.5 610.3,287.2 610.3,285.8 610.4,284.2 610.7,282.6 611.1,280.9 611.7,279.3 612.4,277.6 613.3,275.9 614.3,274.4 615.4,272.9 616.5,271.5 617.7,270.3 619.0,269.3 620.3,268.4 621.6,267.7 622.8,267.2 624.0,267.0 625.1,266.9 626.2,267.1 627.1,267.5"/>
<polyline points="634.8,288.3 643.5,293.3"/>
<polyline points="612.4,274.3 605.4,289.9 596.2,302.9 580.0,313.1"/>
<polyline points="614.5,282.4 608.6,301.8 604.8,308.3 589.7,320.0"/>
<ellipse cx="601" cy="306.1" rx="2.6" ry="1.6"/>
<polyline points="605.9,222.0 605.9,281.3"/>
<polyline points="611.8,220.0 611.8,274.5"/>
<polyline points="594.6,271.6 594.6,303.0"/>
<polyline points="556.8,351.9 558.9,346.4 572.7,336.6 578.3,336.0 590.8,339.4 603.3,346.4 610.2,354.7 610.2,360.2 606.0,363.0 581.1,367.9 563.0,367.2 557.5,361.6 556.8,351.9"/>
<polyline points="557.5,361.6 558.9,368.5 563.0,370.6 581.1,371.3 606.0,366.5 610.9,361.6 610.2,360.2"/>
<polyline points="563.0,367.2 563.0,370.6"/>
<polyline points="578.3,367.9 578.3,371.3"/>
<polyline points="596.3,364.7 597.7,367.9"/>
<ellipse cx="574.8" cy="338.7" rx="2.4" ry="1.6"/>
<ellipse cx="563.0" cy="362.3" rx="2.4" ry="1.6"/>
<ellipse cx="605.3" cy="356.1" rx="2.4" ry="1.6"/>
<polyline points="581.1,320.0 581.1,346.4"/>
<polyline points="581.1,371.3 581.1,397.7"/>
<polyline points="557.5,392.1 560.3,386.6 571.4,378.3 581.1,378.9 603.3,392.1 607.4,395.6 608.8,399.8 603.3,403.2 586.6,406.7 563.0,406.0 558.2,401.8 557.5,392.1"/>
<polyline points="558.2,401.8 558.9,404.6 563.0,407.4 586.6,408.1 603.3,404.6 608.8,401.1"/>
<ellipse cx="581" cy="393.5" rx="18.5" ry="10.3"/>
<ellipse cx="574.8" cy="379.6" rx="2.4" ry="1.6"/>
<ellipse cx="564.4" cy="403.2" rx="2.4" ry="1.6"/>
<ellipse cx="604.6" cy="397.0" rx="2.4" ry="1.6"/>
<polygon points="601.9,322.8 603.9,321.4 607.4,321.7 608.8,323.5 608.1,326.2 603.3,326.7"/>
<polyline points="603.3,326.7 603.3,343.6"/>
<polyline points="607.4,326.2 607.4,343.6"/>
<ellipse cx="605" cy="345.5" rx="3.6" ry="2" stroke-width="2"/>
<circle cx="608" cy="331" r="1.6" fill="#222"/>
<ellipse cx="384.4" cy="314.8" rx="4.6" ry="6" transform="rotate(-30 384.4 314.8)" stroke-width="1.2"/>
<ellipse cx="384.4" cy="314.8" rx="2.8" ry="3.9" transform="rotate(-30 384.4 314.8)"/>
<polyline points="374.8,341.1 374.8,337.5 383.2,329.2 393.9,326.8"/>
<ellipse cx="383.2" cy="334" rx="2" ry="1.4"/>
<ellipse cx="411.9" cy="372.5" rx="3" ry="2" stroke-width="1.6"/>
<polyline points="409.5,374.6 409.5,396.0"/>
<polyline points="415.5,374.6 415.5,396.0"/>
<polygon points="408.3,396.0 410.0,394.5 415.0,394.5 416.8,396.0 416.8,400.0 415.0,401.5 410.0,401.5 408.3,400.0"/>
<ellipse cx="354.8" cy="279.3" rx="3.6" ry="4.3" transform="rotate(30 354.8 279.3)" stroke-width="1.3"/>
<ellipse cx="355.3" cy="279.3" rx="1.8" ry="2.4" transform="rotate(30 355.3 279.3)" fill="#222"/>
<polyline points="358.5,276.8 395.5,300.0"/>
<polyline points="356.7,282.8 393.7,305.5"/>
<polyline points="375.2,287.0 374.2,292.6"/>
<polyline points="379.8,288.9 377.9,294.4"/>
<polyline points="394.6,252.8 379.8,294.4 380.7,298.1 393.7,305.5"/>
<polyline points="275.1,324.4 274.7,323.5 274.5,322.5 274.4,321.4 274.4,320.2 274.5,319.0 274.7,317.6 275.0,316.3 275.4,314.9 275.9,313.4 276.5,312.0 277.2,310.6 277.9,309.2 278.7,307.8 279.6,306.5 280.6,305.3 281.5,304.2 282.6,303.1 283.6,302.1 284.6,301.3 285.7,300.6 286.7,300.0 287.7,299.5 288.7,299.2 289.7,299.1" stroke-width="1.8"/>
<ellipse cx="291.6" cy="317.1" rx="7.6" ry="15.2" transform="rotate(29.9 291.6 317.1)" stroke-width="1.3"/>
<ellipse cx="292.0" cy="317.3" rx="6.5" ry="13.0" transform="rotate(29.9 292.0 317.3)"/>
<polyline points="307.0,310.3 320.0,317.8"/>
<polyline points="293.5,333.7 306.5,341.2"/>
<polyline points="292.5,335.5 291.7,334.9 291.0,334.1 290.5,333.0 290.2,331.8 290.0,330.4 290.0,328.8 290.2,327.2 290.5,325.4 291.1,323.6 291.7,321.8 292.6,320.0 293.5,318.2 294.6,316.4 295.8,314.8 297.0,313.3 298.3,311.9 299.6,310.7 301.0,309.8 302.3,309.0 303.6,308.4 304.9,308.1 306.0,308.0 307.1,308.2 308.0,308.5"/>
<polyline points="303.8,342.0 303.0,341.4 302.3,340.6 301.8,339.5 301.4,338.3 301.3,336.9 301.3,335.3 301.5,333.7 301.8,331.9 302.3,330.1 303.0,328.3 303.8,326.4 304.8,324.6 305.9,322.9 307.0,321.3 308.3,319.8 309.6,318.4 310.9,317.2 312.3,316.2 313.6,315.5 314.9,314.9 316.1,314.6 317.3,314.5 318.4,314.6 319.3,315.0" stroke-width="1.4"/>
<polyline points="306.1,342.0 305.3,341.4 304.7,340.7 304.2,339.7 303.9,338.5 303.8,337.2 303.8,335.8 303.9,334.3 304.3,332.7 304.8,331.0 305.4,329.3 306.1,327.6 307.0,325.9 308.0,324.3 309.1,322.8 310.3,321.4 311.5,320.2 312.7,319.1 313.9,318.1 315.2,317.4 316.4,316.9 317.5,316.6 318.6,316.5 319.6,316.7 320.5,317.0"/>
<polyline points="320.0,317.8 341.7,330.3"/>
<polyline points="307.4,341.7 328.2,353.7"/>
<ellipse cx="335.0" cy="342.0" rx="6.7" ry="13.4" transform="rotate(29.9 335.0 342.0)" stroke-width="1.3"/>
<polyline points="301.4,323.5 324.5,337.1"/>
<polyline points="325.0,302.6 325.0,337.1"/>
</g>
<circle cx="325" cy="61" r="6.3" fill="#fff" stroke="#111" stroke-width="1.25"/>
<text x="325" y="64.5" font-size="9.6" text-anchor="middle" textLength="9.0" lengthAdjust="spacingAndGlyphs">55</text>
<polyline points="325.0,68.0 325.0,89.0" fill="none" stroke="#151515" stroke-width="1"/>
<path d="M325.0 89.0 L323.9 84.8 L326.1 84.8Z" fill="#111"/>
<circle cx="366" cy="83" r="6.3" fill="#fff" stroke="#111" stroke-width="1.25"/>
<text x="366" y="86.5" font-size="9.6" text-anchor="middle" textLength="9.0" lengthAdjust="spacingAndGlyphs">54</text>
<polyline points="364.6,90.0 361.0,118.6" fill="none" stroke="#151515" stroke-width="1"/>
<path d="M361.0 118.6 L360.4 114.3 L362.7 114.6Z" fill="#111"/>
<circle cx="430" cy="111.3" r="6.3" fill="#fff" stroke="#111" stroke-width="1.25"/>
<text x="430" y="114.8" font-size="9.6" text-anchor="middle" textLength="9.0" lengthAdjust="spacingAndGlyphs">53</text>
<polyline points="425.0,116.0 404.0,144.0" fill="none" stroke="#151515" stroke-width="1"/>
<path d="M404.0 144.0 L405.6 139.9 L407.4 141.3Z" fill="#111"/>
<polyline points="430.0,117.5 430.0,156.0" fill="none" stroke="#151515" stroke-width="1"/>
<path d="M430.0 156.0 L428.9 151.8 L431.1 151.8Z" fill="#111"/>
<circle cx="447.5" cy="118" r="6.3" fill="#fff" stroke="#111" stroke-width="1.25"/>
<text x="447.5" y="121.5" font-size="9.6" text-anchor="middle" textLength="9.0" lengthAdjust="spacingAndGlyphs">52</text>
<polyline points="448.0,125.0 452.7,167.0" fill="none" stroke="#151515" stroke-width="1"/>
<path d="M452.7 167.0 L451.1 163.0 L453.4 162.7Z" fill="#111"/>
<circle cx="472.5" cy="133" r="6.3" fill="#fff" stroke="#111" stroke-width="1.25"/>
<text x="472.5" y="136.5" font-size="9.6" text-anchor="middle" textLength="9.0" lengthAdjust="spacingAndGlyphs">51</text>
<polyline points="472.5,140.0 475.7,180.0" fill="none" stroke="#151515" stroke-width="1"/>
<path d="M475.7 180.0 L474.2 175.9 L476.5 175.7Z" fill="#111"/>
<circle cx="256" cy="147" r="6.3" fill="#fff" stroke="#111" stroke-width="1.25"/>
<text x="256" y="150.5" font-size="9.6" text-anchor="middle" textLength="9.0" lengthAdjust="spacingAndGlyphs">56</text>
<polyline points="261.0,143.0 271.0,132.0" fill="none" stroke="#151515" stroke-width="1"/>
<path d="M271.0 132.0 L269.0 135.9 L267.3 134.3Z" fill="#111"/>
<circle cx="236.5" cy="187.5" r="6.3" fill="#fff" stroke="#111" stroke-width="1.25"/>
<text x="236.5" y="191.0" font-size="9.6" text-anchor="middle" textLength="9.0" lengthAdjust="spacingAndGlyphs">57</text>
<polyline points="241.0,183.0 256.0,172.0" fill="none" stroke="#151515" stroke-width="1"/>
<path d="M256.0 172.0 L253.3 175.4 L251.9 173.6Z" fill="#111"/>
<circle cx="316" cy="183.6" r="6.3" fill="#fff" stroke="#111" stroke-width="1.25"/>
<text x="316" y="187.1" font-size="9.6" text-anchor="middle" textLength="9.0" lengthAdjust="spacingAndGlyphs">23</text>
<polyline points="321.0,180.0 334.6,167.0" fill="none" stroke="#151515" stroke-width="1"/>
<path d="M334.6 167.0 L332.4 170.7 L330.8 169.1Z" fill="#111"/>
<circle cx="335" cy="199.8" r="6.3" fill="#fff" stroke="#111" stroke-width="1.25"/>
<text x="335" y="203.3" font-size="9.6" text-anchor="middle" textLength="9.0" lengthAdjust="spacingAndGlyphs">58</text>
<circle cx="641.8" cy="45.5" r="6.3" fill="#fff" stroke="#111" stroke-width="1.25"/>
<text x="641.8" y="49.0" font-size="9.6" text-anchor="middle" textLength="9.0" lengthAdjust="spacingAndGlyphs">47</text>
<polyline points="640.5,52.0 638.0,92.4" fill="none" stroke="#151515" stroke-width="1"/>
<path d="M638.0 92.4 L637.1 88.1 L639.4 88.3Z" fill="#111"/>
<circle cx="700.7" cy="49.6" r="6.3" fill="#fff" stroke="#111" stroke-width="1.25"/>
<text x="700.7" y="53.1" font-size="9.6" text-anchor="middle" textLength="9.0" lengthAdjust="spacingAndGlyphs">46</text>
<polyline points="696.7,56.0 675.0,82.4" fill="none" stroke="#151515" stroke-width="1"/>
<path d="M675.0 82.4 L676.8 78.4 L678.6 79.9Z" fill="#111"/>
<circle cx="737" cy="55" r="6.3" fill="#fff" stroke="#111" stroke-width="1.25"/>
<text x="737" y="58.5" font-size="9.6" text-anchor="middle" textLength="9.0" lengthAdjust="spacingAndGlyphs">45</text>
<polyline points="734.0,61.0 709.0,125.0" fill="none" stroke="#151515" stroke-width="1"/>
<path d="M709.0 125.0 L709.5 120.7 L711.6 121.5Z" fill="#111"/>
<circle cx="774" cy="77.4" r="6.3" fill="#fff" stroke="#111" stroke-width="1.25"/>
<text x="774" y="80.9" font-size="9.6" text-anchor="middle" textLength="9.0" lengthAdjust="spacingAndGlyphs">44</text>
<polyline points="770.0,83.7 743.0,145.0" fill="none" stroke="#151515" stroke-width="1"/>
<path d="M743.0 145.0 L743.6 140.7 L745.7 141.6Z" fill="#111"/>
<circle cx="811.5" cy="100.7" r="6.3" fill="#fff" stroke="#111" stroke-width="1.25"/>
<text x="811.5" y="104.2" font-size="9.6" text-anchor="middle" textLength="9.0" lengthAdjust="spacingAndGlyphs">43</text>
<polyline points="805.0,105.0 779.0,121.0" fill="none" stroke="#151515" stroke-width="1"/>
<path d="M779.0 121.0 L782.0 117.8 L783.2 119.8Z" fill="#111"/>
<circle cx="831" cy="135" r="6.3" fill="#fff" stroke="#111" stroke-width="1.25"/>
<text x="831" y="138.5" font-size="9.6" text-anchor="middle" textLength="9.0" lengthAdjust="spacingAndGlyphs">42</text>
<polyline points="825.0,138.6 814.0,140.0" fill="none" stroke="#151515" stroke-width="1"/>
<path d="M814.0 140.0 L818.0 138.3 L818.3 140.6Z" fill="#111"/>
<circle cx="818.5" cy="172.3" r="6.3" fill="#fff" stroke="#111" stroke-width="1.25"/>
<text x="818.5" y="175.8" font-size="9.6" text-anchor="middle" textLength="9.0" lengthAdjust="spacingAndGlyphs">41</text>
<polyline points="813.0,170.0 790.0,160.0" fill="none" stroke="#151515" stroke-width="1"/>
<path d="M790.0 160.0 L794.3 160.6 L793.4 162.7Z" fill="#111"/>
<circle cx="782.7" cy="193.6" r="6.3" fill="#fff" stroke="#111" stroke-width="1.25"/>
<text x="782.7" y="197.1" font-size="9.6" text-anchor="middle" textLength="9.0" lengthAdjust="spacingAndGlyphs">40</text>
<polyline points="777.8,188.7 757.9,172.5" fill="none" stroke="#151515" stroke-width="1"/>
<path d="M757.9 172.5 L761.9 174.3 L760.4 176.0Z" fill="#111"/>
<circle cx="584.5" cy="144.5" r="6.3" fill="#fff" stroke="#111" stroke-width="1.25"/>
<text x="584.5" y="148.0" font-size="9.6" text-anchor="middle" textLength="9.0" lengthAdjust="spacingAndGlyphs">49</text>
<polyline points="585.0,151.0 595.0,209.0" fill="none" stroke="#151515" stroke-width="1"/>
<path d="M595.0 209.0 L593.2 205.1 L595.4 204.7Z" fill="#111"/>
<circle cx="609.2" cy="165" r="6.3" fill="#fff" stroke="#111" stroke-width="1.25"/>
<text x="609.2" y="168.5" font-size="9.6" text-anchor="middle" textLength="9.0" lengthAdjust="spacingAndGlyphs">48</text>
<polyline points="609.2,171.5 609.5,215.0" fill="none" stroke="#151515" stroke-width="1"/>
<path d="M609.5 215.0 L608.3 210.8 L610.6 210.8Z" fill="#111"/>
<circle cx="127.8" cy="186.8" r="6.3" fill="#fff" stroke="#111" stroke-width="1.25"/>
<text x="127.8" y="190.3" font-size="9.6" text-anchor="middle" textLength="9.0" lengthAdjust="spacingAndGlyphs">29</text>
<polyline points="130.0,193.7 131.0,207.5" fill="none" stroke="#151515" stroke-width="1"/>
<path d="M131.0 207.5 L129.5 203.4 L131.8 203.2Z" fill="#111"/>
<circle cx="112.4" cy="203.7" r="6.3" fill="#fff" stroke="#111" stroke-width="1.25"/>
<text x="112.4" y="207.2" font-size="9.6" text-anchor="middle" textLength="9.0" lengthAdjust="spacingAndGlyphs">32</text>
<polyline points="116.0,210.0 125.0,225.0" fill="none" stroke="#151515" stroke-width="1"/>
<path d="M125.0 225.0 L121.9 222.0 L123.8 220.8Z" fill="#111"/>
<circle cx="142.9" cy="195.5" r="6.3" fill="#fff" stroke="#111" stroke-width="1.25"/>
<text x="142.9" y="199.0" font-size="9.6" text-anchor="middle" textLength="9.0" lengthAdjust="spacingAndGlyphs">33</text>
<polyline points="145.0,202.0 145.4,236.0" fill="none" stroke="#151515" stroke-width="1"/>
<path d="M145.4 236.0 L144.2 231.8 L146.5 231.8Z" fill="#111"/>
<circle cx="168.6" cy="202" r="6.3" fill="#fff" stroke="#111" stroke-width="1.25"/>
<text x="168.6" y="205.5" font-size="9.6" text-anchor="middle" textLength="9.0" lengthAdjust="spacingAndGlyphs">61</text>
<polyline points="163.6,207.5 153.6,216.0" fill="none" stroke="#151515" stroke-width="1"/>
<path d="M153.6 216.0 L156.1 212.4 L157.5 214.2Z" fill="#111"/>
<circle cx="189.8" cy="212" r="6.3" fill="#fff" stroke="#111" stroke-width="1.25"/>
<text x="189.8" y="215.5" font-size="9.6" text-anchor="middle" textLength="9.0" lengthAdjust="spacingAndGlyphs">32</text>
<polyline points="186.0,218.0 177.0,242.4" fill="none" stroke="#151515" stroke-width="1"/>
<path d="M177.0 242.4 L177.4 238.1 L179.5 238.9Z" fill="#111"/>
<polyline points="190.5,218.5 190.8,233.0" fill="none" stroke="#151515" stroke-width="1"/>
<path d="M190.8 233.0 L189.6 228.8 L191.9 228.8Z" fill="#111"/>
<circle cx="213.5" cy="212.4" r="6.3" fill="#fff" stroke="#111" stroke-width="1.25"/>
<text x="213.5" y="215.9" font-size="9.6" text-anchor="middle" textLength="9.0" lengthAdjust="spacingAndGlyphs">61</text>
<polyline points="208.5,218.7 199.8,230.0" fill="none" stroke="#151515" stroke-width="1"/>
<path d="M199.8 230.0 L201.5 226.0 L203.3 227.4Z" fill="#111"/>
<circle cx="100.7" cy="293.6" r="6.3" fill="#fff" stroke="#111" stroke-width="1.25"/>
<text x="100.7" y="297.1" font-size="9.6" text-anchor="middle" textLength="9.0" lengthAdjust="spacingAndGlyphs">26</text>
<polyline points="107.4,290.0 135.0,272.0" fill="none" stroke="#151515" stroke-width="1"/>
<path d="M135.0 272.0 L132.1 275.3 L130.9 273.3Z" fill="#111"/>
<circle cx="154.4" cy="287.4" r="6.3" fill="#fff" stroke="#111" stroke-width="1.25"/>
<text x="154.4" y="290.9" font-size="9.6" text-anchor="middle" textLength="9.0" lengthAdjust="spacingAndGlyphs">31</text>
<polyline points="158.0,281.0 166.0,265.0" fill="none" stroke="#151515" stroke-width="1"/>
<path d="M166.0 265.0 L165.2 269.3 L163.1 268.2Z" fill="#111"/>
<circle cx="165.4" cy="301" r="6.3" fill="#fff" stroke="#111" stroke-width="1.25"/>
<text x="165.4" y="304.5" font-size="9.6" text-anchor="middle" textLength="9.0" lengthAdjust="spacingAndGlyphs">61</text>
<polyline points="170.0,295.5 176.5,291.0" fill="none" stroke="#151515" stroke-width="1"/>
<path d="M176.5 291.0 L173.7 294.3 L172.4 292.4Z" fill="#111"/>
<circle cx="179.3" cy="311.8" r="6.3" fill="#fff" stroke="#111" stroke-width="1.25"/>
<text x="179.3" y="315.3" font-size="9.6" text-anchor="middle" textLength="9.0" lengthAdjust="spacingAndGlyphs">60</text>
<polyline points="183.0,306.0 192.0,290.0" fill="none" stroke="#151515" stroke-width="1"/>
<path d="M192.0 290.0 L190.9 294.2 L188.9 293.1Z" fill="#111"/>
<circle cx="199.8" cy="317.3" r="6.3" fill="#fff" stroke="#111" stroke-width="1.25"/>
<text x="199.8" y="320.8" font-size="9.6" text-anchor="middle" textLength="9.0" lengthAdjust="spacingAndGlyphs">59</text>
<polyline points="201.0,310.5 206.0,290.0" fill="none" stroke="#151515" stroke-width="1"/>
<path d="M206.0 290.0 L206.1 294.4 L203.9 293.8Z" fill="#111"/>
<circle cx="66" cy="316" r="6.3" fill="#fff" stroke="#111" stroke-width="1.25"/>
<text x="66" y="319.5" font-size="9.6" text-anchor="middle" textLength="9.0" lengthAdjust="spacingAndGlyphs">27</text>
<polyline points="72.0,318.0 82.5,322.3" fill="none" stroke="#151515" stroke-width="1"/>
<path d="M82.5 322.3 L78.2 321.8 L79.0 319.6Z" fill="#111"/>
<circle cx="50.5" cy="337.5" r="6.3" fill="#fff" stroke="#111" stroke-width="1.25"/>
<text x="50.5" y="341.0" font-size="9.6" text-anchor="middle" textLength="9.0" lengthAdjust="spacingAndGlyphs">61</text>
<polyline points="56.5,337.0 63.0,336.0" fill="none" stroke="#151515" stroke-width="1"/>
<path d="M63.0 336.0 L59.0 337.8 L58.7 335.5Z" fill="#111"/>
<circle cx="298" cy="215" r="6.3" fill="#fff" stroke="#111" stroke-width="1.25"/>
<text x="298" y="218.5" font-size="9.6" text-anchor="middle" textLength="9.0" lengthAdjust="spacingAndGlyphs">41</text>
<polyline points="293.4,221.0 278.4,233.7" fill="none" stroke="#151515" stroke-width="1"/>
<path d="M278.4 233.7 L280.9 230.1 L282.3 231.9Z" fill="#111"/>
<circle cx="283.4" cy="261" r="6.3" fill="#fff" stroke="#111" stroke-width="1.25"/>
<text x="283.4" y="264.5" font-size="9.6" text-anchor="middle" textLength="9.0" lengthAdjust="spacingAndGlyphs">34</text>
<polyline points="279.7,267.0 262.0,285.0" fill="none" stroke="#151515" stroke-width="1"/>
<path d="M262.0 285.0 L264.1 281.2 L265.8 282.8Z" fill="#111"/>
<circle cx="296.4" cy="269.4" r="6.3" fill="#fff" stroke="#111" stroke-width="1.25"/>
<text x="296.4" y="272.9" font-size="9.6" text-anchor="middle" textLength="9.0" lengthAdjust="spacingAndGlyphs">39</text>
<polyline points="292.0,275.0 269.7,287.0" fill="none" stroke="#151515" stroke-width="1"/>
<path d="M269.7 287.0 L272.9 284.0 L273.9 286.0Z" fill="#111"/>
<circle cx="309.6" cy="275" r="6.3" fill="#fff" stroke="#111" stroke-width="1.25"/>
<text x="309.6" y="278.5" font-size="9.6" text-anchor="middle" textLength="9.0" lengthAdjust="spacingAndGlyphs">28</text>
<polyline points="307.0,281.0 288.4,300.0" fill="none" stroke="#151515" stroke-width="1"/>
<path d="M288.4 300.0 L290.5 296.2 L292.2 297.8Z" fill="#111"/>
<circle cx="322" cy="276" r="6.3" fill="#fff" stroke="#111" stroke-width="1.25"/>
<text x="322" y="279.5" font-size="9.6" text-anchor="middle" textLength="9.0" lengthAdjust="spacingAndGlyphs">51</text>
<polyline points="319.6,282.0 303.4,302.0" fill="none" stroke="#151515" stroke-width="1"/>
<path d="M303.4 302.0 L305.1 298.0 L306.9 299.5Z" fill="#111"/>
<circle cx="342" cy="282" r="6.3" fill="#fff" stroke="#111" stroke-width="1.25"/>
<text x="342" y="285.5" font-size="9.6" text-anchor="middle" textLength="9.0" lengthAdjust="spacingAndGlyphs">52</text>
<polyline points="338.0,288.6 318.0,315.0" fill="none" stroke="#151515" stroke-width="1"/>
<path d="M318.0 315.0 L319.6 311.0 L321.5 312.3Z" fill="#111"/>
<circle cx="352" cy="300" r="6.3" fill="#fff" stroke="#111" stroke-width="1.25"/>
<text x="352" y="303.5" font-size="9.6" text-anchor="middle" textLength="9.0" lengthAdjust="spacingAndGlyphs">53</text>
<polyline points="348.3,307.0 333.0,326.0" fill="none" stroke="#151515" stroke-width="1"/>
<path d="M333.0 326.0 L334.7 322.0 L336.5 323.5Z" fill="#111"/>
<circle cx="354.6" cy="257.4" r="6.3" fill="#fff" stroke="#111" stroke-width="1.25"/>
<text x="354.6" y="260.9" font-size="9.6" text-anchor="middle" textLength="9.0" lengthAdjust="spacingAndGlyphs">43</text>
<polyline points="354.6,263.6 354.0,275.0" fill="none" stroke="#151515" stroke-width="1"/>
<path d="M354.0 275.0 L353.1 270.7 L355.4 270.9Z" fill="#111"/>
<circle cx="380.8" cy="266" r="6.3" fill="#fff" stroke="#111" stroke-width="1.25"/>
<text x="380.8" y="269.5" font-size="9.6" text-anchor="middle" textLength="9.0" lengthAdjust="spacingAndGlyphs">44</text>
<polyline points="375.8,270.0 360.8,276.0" fill="none" stroke="#151515" stroke-width="1"/>
<path d="M360.8 276.0 L364.3 273.4 L365.1 275.5Z" fill="#111"/>
<circle cx="623" cy="234.4" r="6.3" fill="#fff" stroke="#111" stroke-width="1.25"/>
<text x="623" y="237.9" font-size="9.6" text-anchor="middle" textLength="9.0" lengthAdjust="spacingAndGlyphs">28</text>
<polyline points="621.8,241.0 621.8,267.0" fill="none" stroke="#151515" stroke-width="1"/>
<path d="M621.8 267.0 L620.6 262.8 L622.9 262.8Z" fill="#111"/>
<circle cx="637" cy="241" r="6.3" fill="#fff" stroke="#111" stroke-width="1.25"/>
<text x="637" y="244.5" font-size="9.6" text-anchor="middle" textLength="9.0" lengthAdjust="spacingAndGlyphs">39</text>
<polyline points="636.7,247.4 635.5,275.0" fill="none" stroke="#151515" stroke-width="1"/>
<path d="M635.5 275.0 L634.5 270.8 L636.8 270.9Z" fill="#111"/>
<circle cx="657.5" cy="262.4" r="6.3" fill="#fff" stroke="#111" stroke-width="1.25"/>
<text x="657.5" y="265.9" font-size="9.6" text-anchor="middle" textLength="9.0" lengthAdjust="spacingAndGlyphs">35</text>
<polyline points="653.0,268.6 648.0,277.0" fill="none" stroke="#151515" stroke-width="1"/>
<path d="M648.0 277.0 L649.2 272.8 L651.1 274.0Z" fill="#111"/>
<circle cx="710" cy="284.3" r="6.3" fill="#fff" stroke="#111" stroke-width="1.25"/>
<text x="710" y="287.8" font-size="9.6" text-anchor="middle" textLength="9.0" lengthAdjust="spacingAndGlyphs">36</text>
<polyline points="703.7,285.0 680.5,285.0" fill="none" stroke="#151515" stroke-width="1"/>
<path d="M680.5 285.0 L684.7 283.9 L684.7 286.1Z" fill="#111"/>
<circle cx="722.4" cy="298.6" r="6.3" fill="#fff" stroke="#111" stroke-width="1.25"/>
<text x="722.4" y="302.1" font-size="9.6" text-anchor="middle" textLength="9.0" lengthAdjust="spacingAndGlyphs">37</text>
<polyline points="716.0,299.3 685.5,303.6" fill="none" stroke="#151515" stroke-width="1"/>
<path d="M685.5 303.6 L689.5 301.9 L689.8 304.2Z" fill="#111"/>
<circle cx="738.5" cy="327" r="6.3" fill="#fff" stroke="#111" stroke-width="1.25"/>
<text x="738.5" y="330.5" font-size="9.6" text-anchor="middle" textLength="9.0" lengthAdjust="spacingAndGlyphs">25</text>
<polyline points="732.3,328.7 709.9,333.7" fill="none" stroke="#151515" stroke-width="1"/>
<path d="M709.9 333.7 L713.7 331.7 L714.2 333.9Z" fill="#111"/>
<circle cx="632" cy="335.2" r="6.3" fill="#fff" stroke="#111" stroke-width="1.25"/>
<text x="632" y="338.7" font-size="9.6" text-anchor="middle" textLength="9.0" lengthAdjust="spacingAndGlyphs">31</text>
<polyline points="625.5,335.0 608.0,331.0" fill="none" stroke="#151515" stroke-width="1"/>
<path d="M608.0 331.0 L612.4 330.8 L611.8 333.1Z" fill="#111"/>
<circle cx="636.5" cy="349.3" r="6.3" fill="#fff" stroke="#111" stroke-width="1.25"/>
<text x="636.5" y="352.8" font-size="9.6" text-anchor="middle" textLength="9.0" lengthAdjust="spacingAndGlyphs">24</text>
<polyline points="630.5,349.5 608.0,346.0" fill="none" stroke="#151515" stroke-width="1"/>
<path d="M608.0 346.0 L612.3 345.5 L612.0 347.8Z" fill="#111"/>
<circle cx="638" cy="364.7" r="6.3" fill="#fff" stroke="#111" stroke-width="1.25"/>
<text x="638" y="368.2" font-size="9.6" text-anchor="middle" textLength="9.0" lengthAdjust="spacingAndGlyphs">30</text>
<polyline points="631.8,365.0 596.8,364.4" fill="none" stroke="#151515" stroke-width="1"/>
<path d="M596.8 364.4 L601.0 363.3 L601.0 365.6Z" fill="#111"/>
<circle cx="636.7" cy="421.9" r="6.3" fill="#fff" stroke="#111" stroke-width="1.25"/>
<text x="636.7" y="425.4" font-size="9.6" text-anchor="middle" textLength="9.0" lengthAdjust="spacingAndGlyphs">29</text>
<polyline points="631.8,417.4 608.0,397.4" fill="none" stroke="#151515" stroke-width="1"/>
<path d="M608.0 397.4 L612.0 399.2 L610.5 401.0Z" fill="#111"/>
<circle cx="378.3" cy="373.7" r="6.3" fill="#fff" stroke="#111" stroke-width="1.25"/>
<text x="378.3" y="377.2" font-size="9.6" text-anchor="middle" textLength="9.0" lengthAdjust="spacingAndGlyphs">21</text>
<polyline points="380.8,367.4 388.3,320.0" fill="none" stroke="#151515" stroke-width="1"/>
<path d="M388.3 320.0 L388.8 324.3 L386.5 324.0Z" fill="#111"/>
<circle cx="395.8" cy="387.4" r="6.3" fill="#fff" stroke="#111" stroke-width="1.25"/>
<text x="395.8" y="390.9" font-size="9.6" text-anchor="middle" textLength="9.0" lengthAdjust="spacingAndGlyphs">24</text>
<polyline points="402.0,382.4 410.8,376.0" fill="none" stroke="#151515" stroke-width="1"/>
<path d="M410.8 376.0 L408.1 379.4 L406.7 377.5Z" fill="#111"/>
<circle cx="395.8" cy="405" r="6.3" fill="#fff" stroke="#111" stroke-width="1.25"/>
<text x="395.8" y="408.5" font-size="9.6" text-anchor="middle" textLength="9.0" lengthAdjust="spacingAndGlyphs">25</text>
<polyline points="402.0,401.0 410.8,398.7" fill="none" stroke="#151515" stroke-width="1"/>
<path d="M410.8 398.7 L407.0 400.9 L406.4 398.6Z" fill="#111"/>
<circle cx="346.3" cy="425.4" r="6.3" fill="#fff" stroke="#111" stroke-width="1.25"/>
<text x="346.3" y="428.9" font-size="9.6" text-anchor="middle" textLength="9.0" lengthAdjust="spacingAndGlyphs">20</text>
<polyline points="348.3,418.6 355.8,380.0" fill="none" stroke="#151515" stroke-width="1"/>
<path d="M355.8 380.0 L356.1 384.3 L353.9 383.9Z" fill="#111"/>
<circle cx="318.4" cy="451.8" r="6.3" fill="#fff" stroke="#111" stroke-width="1.25"/>
<text x="318.4" y="455.3" font-size="9.6" text-anchor="middle" textLength="9.0" lengthAdjust="spacingAndGlyphs">19</text>
<polyline points="320.9,444.8 328.4,397.4" fill="none" stroke="#151515" stroke-width="1"/>
<path d="M328.4 397.4 L328.9 401.7 L326.6 401.4Z" fill="#111"/>
<circle cx="181.8" cy="350.5" r="6.3" fill="#fff" stroke="#111" stroke-width="1.25"/>
<text x="181.8" y="354.0" font-size="9.6" text-anchor="middle" textLength="4.8" lengthAdjust="spacingAndGlyphs">1</text>
<polyline points="176.0,353.7 153.6,366.0" fill="none" stroke="#151515" stroke-width="1"/>
<path d="M153.6 366.0 L156.7 363.0 L157.8 365.0Z" fill="#111"/>
<circle cx="184.3" cy="368" r="6.3" fill="#fff" stroke="#111" stroke-width="1.25"/>
<text x="184.3" y="371.5" font-size="9.6" text-anchor="middle" textLength="4.8" lengthAdjust="spacingAndGlyphs">2</text>
<polyline points="178.6,373.7 176.0,377.0" fill="none" stroke="#151515" stroke-width="1"/>
<path d="M176.0 377.0 L177.7 373.0 L179.5 374.4Z" fill="#111"/>
<circle cx="184.8" cy="382.4" r="6.3" fill="#fff" stroke="#111" stroke-width="1.25"/>
<text x="184.8" y="385.9" font-size="9.6" text-anchor="middle" textLength="4.8" lengthAdjust="spacingAndGlyphs">3</text>
<polyline points="178.6,385.0 143.6,393.7" fill="none" stroke="#151515" stroke-width="1"/>
<path d="M143.6 393.7 L147.4 391.6 L148.0 393.8Z" fill="#111"/>
<circle cx="79.2" cy="402.4" r="6.3" fill="#fff" stroke="#111" stroke-width="1.25"/>
<text x="79.2" y="405.9" font-size="9.6" text-anchor="middle" textLength="4.8" lengthAdjust="spacingAndGlyphs">6</text>
<polyline points="85.0,397.4 96.0,387.0" fill="none" stroke="#151515" stroke-width="1"/>
<path d="M96.0 387.0 L93.7 390.7 L92.2 389.0Z" fill="#111"/>
<circle cx="186" cy="400.4" r="6.3" fill="#fff" stroke="#111" stroke-width="1.25"/>
<text x="186" y="403.9" font-size="9.6" text-anchor="middle" textLength="4.8" lengthAdjust="spacingAndGlyphs">4</text>
<polyline points="181.0,405.0 142.4,433.6" fill="none" stroke="#151515" stroke-width="1"/>
<path d="M142.4 433.6 L145.1 430.2 L146.5 432.0Z" fill="#111"/>
<circle cx="187.3" cy="415" r="6.3" fill="#fff" stroke="#111" stroke-width="1.25"/>
<text x="187.3" y="418.5" font-size="9.6" text-anchor="middle" textLength="4.8" lengthAdjust="spacingAndGlyphs">5</text>
<polyline points="182.3,418.6 140.0,447.0" fill="none" stroke="#151515" stroke-width="1"/>
<path d="M140.0 447.0 L142.8 443.7 L144.1 445.6Z" fill="#111"/>
<circle cx="113" cy="421" r="6.3" fill="#fff" stroke="#111" stroke-width="1.25"/>
<text x="113" y="424.5" font-size="9.6" text-anchor="middle" textLength="9.0" lengthAdjust="spacingAndGlyphs">38</text>
<polyline points="118.7,426.0 132.4,430.0" fill="none" stroke="#151515" stroke-width="1"/>
<path d="M132.4 430.0 L128.0 429.9 L128.7 427.7Z" fill="#111"/>
<circle cx="46.3" cy="441.4" r="6.3" fill="#fff" stroke="#111" stroke-width="1.25"/>
<text x="46.3" y="444.9" font-size="9.6" text-anchor="middle" textLength="4.8" lengthAdjust="spacingAndGlyphs">7</text>
<polyline points="52.5,443.6 66.2,448.6" fill="none" stroke="#151515" stroke-width="1"/>
<path d="M66.2 448.6 L61.9 448.2 L62.6 446.1Z" fill="#111"/>
<circle cx="42.7" cy="463" r="6.3" fill="#fff" stroke="#111" stroke-width="1.25"/>
<text x="42.7" y="466.5" font-size="9.6" text-anchor="middle" textLength="4.8" lengthAdjust="spacingAndGlyphs">8</text>
<polyline points="49.5,463.0 75.8,463.9" fill="none" stroke="#151515" stroke-width="1"/>
<path d="M75.8 463.9 L71.6 464.9 L71.6 462.6Z" fill="#111"/>
<circle cx="36.5" cy="484.2" r="6.3" fill="#fff" stroke="#111" stroke-width="1.25"/>
<text x="36.5" y="487.7" font-size="9.6" text-anchor="middle" textLength="4.8" lengthAdjust="spacingAndGlyphs">9</text>
<polyline points="42.7,483.4 87.6,474.4" fill="none" stroke="#151515" stroke-width="1"/>
<path d="M87.6 474.4 L83.7 476.4 L83.3 474.1Z" fill="#111"/>
<circle cx="42.7" cy="501.4" r="6.3" fill="#fff" stroke="#111" stroke-width="1.25"/>
<text x="42.7" y="504.9" font-size="9.6" text-anchor="middle" textLength="9.0" lengthAdjust="spacingAndGlyphs">10</text>
<polyline points="48.6,502.0 53.7,502.9" fill="none" stroke="#151515" stroke-width="1"/>
<path d="M53.7 502.9 L49.4 503.3 L49.8 501.0Z" fill="#111"/>
<circle cx="57.5" cy="513.3" r="6.3" fill="#fff" stroke="#111" stroke-width="1.25"/>
<text x="57.5" y="516.8" font-size="9.6" text-anchor="middle" textLength="9.0" lengthAdjust="spacingAndGlyphs">11</text>
<polyline points="63.0,509.7 109.7,480.8" fill="none" stroke="#151515" stroke-width="1"/>
<path d="M109.7 480.8 L106.7 484.0 L105.5 482.0Z" fill="#111"/>
<circle cx="65.6" cy="527.6" r="6.3" fill="#fff" stroke="#111" stroke-width="1.25"/>
<text x="65.6" y="531.1" font-size="9.6" text-anchor="middle" textLength="9.0" lengthAdjust="spacingAndGlyphs">12</text>
<polyline points="71.5,523.2 84.2,509.7" fill="none" stroke="#151515" stroke-width="1"/>
<path d="M84.2 509.7 L82.2 513.5 L80.5 512.0Z" fill="#111"/>
<circle cx="87" cy="530.5" r="6.3" fill="#fff" stroke="#111" stroke-width="1.25"/>
<text x="87" y="534.0" font-size="9.6" text-anchor="middle" textLength="9.0" lengthAdjust="spacingAndGlyphs">13</text>
<polyline points="89.3,524.5 91.0,517.3" fill="none" stroke="#151515" stroke-width="1"/>
<path d="M91.0 517.3 L91.2 521.7 L88.9 521.1Z" fill="#111"/>
<circle cx="107.6" cy="530" r="6.3" fill="#fff" stroke="#111" stroke-width="1.25"/>
<text x="107.6" y="533.5" font-size="9.6" text-anchor="middle" textLength="4.8" lengthAdjust="spacingAndGlyphs">9</text>
<polyline points="108.8,524.0 113.0,501.2" fill="none" stroke="#151515" stroke-width="1"/>
<path d="M113.0 501.2 L113.4 505.5 L111.1 505.1Z" fill="#111"/>
<circle cx="132.9" cy="532.8" r="6.3" fill="#fff" stroke="#111" stroke-width="1.25"/>
<text x="132.9" y="536.3" font-size="9.6" text-anchor="middle" textLength="9.0" lengthAdjust="spacingAndGlyphs">14</text>
<polyline points="139.9,527.4 146.1,513.6" fill="none" stroke="#151515" stroke-width="1"/>
<path d="M146.1 513.6 L145.4 517.9 L143.3 517.0Z" fill="#111"/>
<circle cx="160.4" cy="535.8" r="6.3" fill="#fff" stroke="#111" stroke-width="1.25"/>
<text x="160.4" y="539.3" font-size="9.6" text-anchor="middle" textLength="9.0" lengthAdjust="spacingAndGlyphs">15</text>
<polyline points="164.8,529.9 182.3,478.8" fill="none" stroke="#151515" stroke-width="1"/>
<path d="M182.3 478.8 L182.0 483.1 L179.9 482.4Z" fill="#111"/>
<circle cx="179" cy="534" r="6.3" fill="#fff" stroke="#111" stroke-width="1.25"/>
<text x="179" y="537.5" font-size="9.6" text-anchor="middle" textLength="9.0" lengthAdjust="spacingAndGlyphs">16</text>
<polyline points="182.3,527.4 200.0,470.0" fill="none" stroke="#151515" stroke-width="1"/>
<path d="M200.0 470.0 L199.9 474.4 L197.7 473.7Z" fill="#111"/>
<circle cx="201.8" cy="528.5" r="6.3" fill="#fff" stroke="#111" stroke-width="1.25"/>
<text x="201.8" y="532.0" font-size="9.6" text-anchor="middle" textLength="9.0" lengthAdjust="spacingAndGlyphs">17</text>
<polyline points="205.3,522.0 228.4,450.4" fill="none" stroke="#151515" stroke-width="1"/>
<path d="M228.4 450.4 L228.2 454.8 L226.0 454.0Z" fill="#111"/>
<circle cx="229.5" cy="524.5" r="6.3" fill="#fff" stroke="#111" stroke-width="1.25"/>
<text x="229.5" y="528.0" font-size="9.6" text-anchor="middle" textLength="9.0" lengthAdjust="spacingAndGlyphs">18</text>
<polyline points="233.0,518.0 255.0,443.4" fill="none" stroke="#151515" stroke-width="1"/>
<path d="M255.0 443.4 L254.9 447.8 L252.7 447.1Z" fill="#111"/>
<circle cx="282.4" cy="491.2" r="6.3" fill="#fff" stroke="#111" stroke-width="1.25"/>
<text x="282.4" y="494.7" font-size="9.6" text-anchor="middle" textLength="9.0" lengthAdjust="spacingAndGlyphs">15</text>
<polyline points="285.0,484.5 306.3,409.7" fill="none" stroke="#151515" stroke-width="1"/>
<path d="M306.3 409.7 L306.3 414.1 L304.0 413.4Z" fill="#111"/>
<g stroke="#f0141e" fill="#f0141e">
<line x1="378.5" y1="617.5" x2="327.5" y2="474" stroke-width="2.6"/>
<path d="M323.6 463.2 L322.6 480.2 L334.6 475.8 Z" stroke-width="0.8"/>
</g>
</svg>
</body></html>
